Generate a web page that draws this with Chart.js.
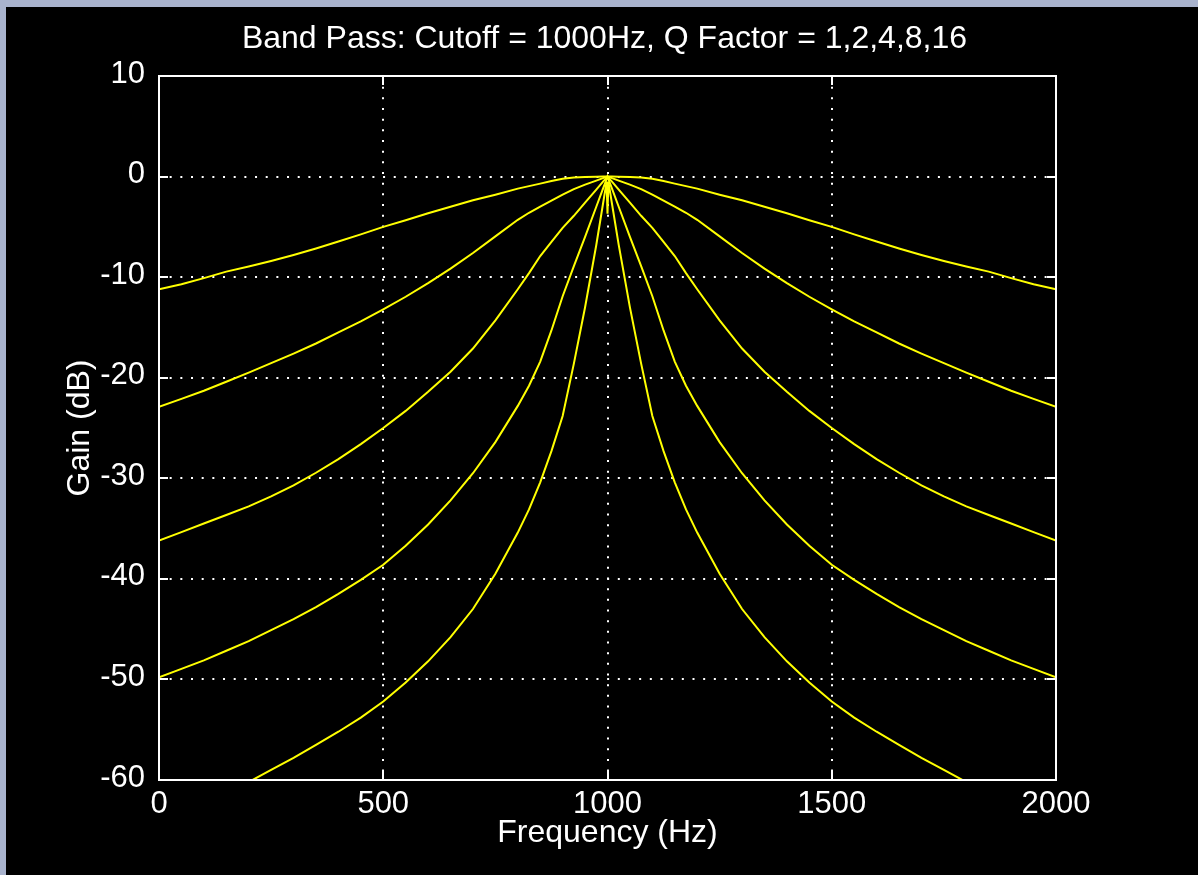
<!DOCTYPE html>
<html>
<head>
<meta charset="utf-8">
<script src="https://cdn.jsdelivr.net/npm/chart.js@4"></script>
<style>
  html, body { margin: 0; padding: 0; background: #a9b3cd; width: 1198px; height: 875px; overflow: hidden; }
  #wrap { position: absolute; left: 6px; top: 7px; width: 1192px; height: 868px; background: #000; }
  canvas { display: block; }
</style>
</head>
<body>
<div id="wrap"><canvas id="c" width="1192" height="868"></canvas></div>
<script>
// Frequency sample points (Hz)
const freqs = [0,50,100,150,200,250,300,350,400,450,500,550,600,650,700,750,800,825,850,875,900,925,950,975,990,998,
               1000,
               1002,1010,1025,1050,1075,1100,1125,1150,1175,1200,1250,1300,1350,1400,1450,1500,1550,1600,1650,1700,1750,1800,1850,1900,1950,2000];

// Gain (dB) for each Q factor
const gainQ1 = [-11.2,-10.7,-10.1,-9.45,-8.95,-8.4,-7.8,-7.15,-6.45,-5.75,-5.0,-4.35,-3.65,-3.0,-2.35,-1.8,-1.2,-0.95,-0.7,-0.45,-0.22,-0.1,-0.05,-0.02,0,0,
                0,
                0,0,-0.02,-0.05,-0.1,-0.22,-0.45,-0.7,-0.95,-1.2,-1.8,-2.35,-3.0,-3.65,-4.35,-5.0,-5.75,-6.45,-7.15,-7.8,-8.4,-8.95,-9.45,-10.1,-10.7,-11.2];
const gainQ2 = [-22.9,-22.1,-21.3,-20.4,-19.5,-18.55,-17.6,-16.6,-15.5,-14.4,-13.2,-11.95,-10.6,-9.15,-7.6,-5.95,-4.3,-3.6,-3.0,-2.4,-1.8,-1.25,-0.8,-0.4,-0.15,-0.03,
                0,
                -0.03,-0.15,-0.4,-0.8,-1.25,-1.8,-2.4,-3.0,-3.6,-4.3,-5.95,-7.6,-9.15,-10.6,-11.95,-13.2,-14.4,-15.5,-16.6,-17.6,-18.55,-19.5,-20.4,-21.3,-22.1,-22.9];
const gainQ4 = [-36.2,-35.35,-34.5,-33.65,-32.8,-31.8,-30.7,-29.45,-28.1,-26.6,-25.0,-23.3,-21.4,-19.4,-17.1,-14.3,-11.2,-9.6,-7.9,-6.5,-5.1,-3.9,-2.6,-1.3,-0.5,-0.1,
                0,
                -0.1,-0.5,-1.3,-2.6,-3.9,-5.1,-6.5,-7.9,-9.6,-11.2,-14.3,-17.1,-19.4,-21.4,-23.3,-25.0,-26.6,-28.1,-29.45,-30.7,-31.8,-32.8,-33.65,-34.5,-35.35,-36.2];
const gainQ8 = [-49.8,-48.95,-48.1,-47.15,-46.2,-45.1,-44.0,-42.8,-41.5,-40.1,-38.6,-36.7,-34.6,-32.2,-29.5,-26.4,-22.8,-20.8,-18.4,-15.3,-11.9,-8.9,-6.0,-3.0,-1.2,-0.25,
                0,
                -0.25,-1.2,-3.0,-6.0,-8.9,-11.9,-15.3,-18.4,-20.8,-22.8,-26.4,-29.5,-32.2,-34.6,-36.7,-38.6,-40.1,-41.5,-42.8,-44.0,-45.1,-46.2,-47.15,-48.1,-48.95,-49.8];
const gainQ16 = [-64.4,-63.4,-62.4,-61.3,-60.2,-59.0,-57.8,-56.5,-55.2,-53.8,-52.2,-50.3,-48.2,-45.8,-43.0,-39.5,-35.4,-33.1,-30.4,-27.3,-23.8,-18.6,-13.0,-6.8,-2.7,-0.5,
                 -3.7,
                 -0.5,-2.7,-6.8,-13.0,-18.6,-23.8,-27.3,-30.4,-33.1,-35.4,-39.5,-43.0,-45.8,-48.2,-50.3,-52.2,-53.8,-55.2,-56.5,-57.8,-59.0,-60.2,-61.3,-62.4,-63.4,-64.4];

const seriesNames = ['Q=1','Q=2','Q=4','Q=8','Q=16'];
const allGains = [gainQ1, gainQ2, gainQ4, gainQ8, gainQ16];

const titleText = 'Band Pass: Cutoff = 1000Hz, Q Factor = 1,2,4,8,16';
const xTitle = 'Frequency (Hz)';
const yTitle = 'Gain (dB)';
const xMin = 0, xMax = 2000, xStep = 500;
const yMin = -60, yMax = 10, yStep = 10;

const FONT = "'Liberation Sans', Arial, Helvetica, sans-serif";

const datasets = allGains.map((g, i) => ({
  label: seriesNames[i],
  data: freqs.map((f, j) => ({ x: f, y: g[j] })),
  borderColor: '#ffff00',
  borderWidth: 2,
  pointRadius: 0,
  tension: 0,
  fill: false
}));

const boxPlugin = {
  id: 'boxPlugin',
  afterDatasetsDraw(chart) {
    const { ctx, chartArea: a, scales } = chart;
    const len = 9;
    ctx.save();
    ctx.strokeStyle = '#ffffff';
    ctx.lineWidth = 2;
    ctx.beginPath();
    scales.x.ticks.forEach(t => {
      const px = Math.round(scales.x.getPixelForValue(t.value));
      ctx.moveTo(px, a.top); ctx.lineTo(px, a.top + len);
      ctx.moveTo(px, a.bottom); ctx.lineTo(px, a.bottom - len);
    });
    scales.y.ticks.forEach(t => {
      const py = Math.round(scales.y.getPixelForValue(t.value));
      ctx.moveTo(a.left, py); ctx.lineTo(a.left + len, py);
      ctx.moveTo(a.right, py); ctx.lineTo(a.right - len, py);
    });
    ctx.stroke();
    ctx.strokeRect(Math.round(a.left), Math.round(a.top), Math.round(a.right - a.left), Math.round(a.bottom - a.top));
    ctx.restore();
  }
};

new Chart(document.getElementById('c'), {
  type: 'line',
  data: { datasets },
  options: {
    responsive: false,
    animation: false,
    layout: { padding: { left: 5, right: 0, top: 0, bottom: 0 } },
    plugins: {
      legend: { display: false },
      tooltip: { enabled: false },
      title: {
        display: true,
        text: titleText,
        color: '#ffffff',
        font: { family: FONT, size: 32, weight: 'normal', lineHeight: 1.2 },
        padding: { top: 12.8, bottom: 17.8 }
      }
    },
    scales: {
      x: {
        type: 'linear',
        min: xMin, max: xMax,
        ticks: { stepSize: xStep, color: '#ffffff', padding: 6, maxRotation: 0,
                 font: { family: FONT, size: 31 },
                 callback: (v) => String(v) },
        grid: { color: '#ffffff', lineWidth: 2, drawTicks: false },
        border: { display: false, dash: [2, 8.67] },
        title: { display: true, text: xTitle, color: '#ffffff',
                 font: { family: FONT, size: 32, lineHeight: 1.2 }, padding: { top: 0, bottom: 23 } },
        afterFit(s) { s.height = 95; }
      },
      y: {
        type: 'linear',
        min: yMin, max: yMax,
        ticks: { stepSize: yStep, color: '#ffffff', padding: 14, labelOffset: -2,
                 font: { family: FONT, size: 31 },
                 callback: (v) => String(v) },
        grid: { color: '#ffffff', lineWidth: 2, drawTicks: false },
        border: { display: false, dash: [2, 8.67] },
        title: { display: true, text: yTitle, color: '#ffffff',
                 font: { family: FONT, size: 32, lineHeight: 1.2 }, padding: { top: 50, bottom: 0 } },
        afterFit(s) { s.width = 148; }
      },
      y2: {
        type: 'linear',
        position: 'right',
        display: true,
        grid: { display: false, drawTicks: false },
        ticks: { display: false },
        border: { display: false },
        afterFit(s) { s.width = 142; }
      }
    }
  },
  plugins: [boxPlugin]
});
</script>
</body>
</html>
